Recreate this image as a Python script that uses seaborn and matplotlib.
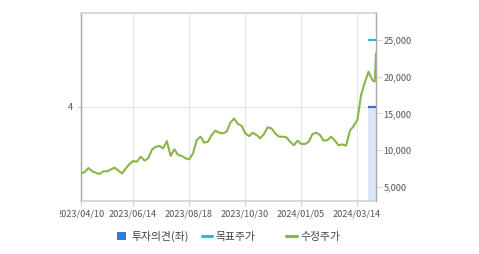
import matplotlib
matplotlib.use("Agg")
import matplotlib.pyplot as plt
import seaborn as sns
from matplotlib.patches import Patch, Rectangle
from matplotlib.lines import Line2D

# ---- data (trading-day index from 2023/04/10) ----
trade_day = list(range(0, 223, 3)) + [225, 228, 231, 234, 236, 237]
adj_price = [
    6800, 7000, 7550, 7100, 6900, 6730, 7100, 7100, 7350, 7600,
    7200, 6800, 7500, 8100, 8500, 8400, 9100, 8550, 8870, 10050,
    10450, 10550, 10230, 11200, 9200, 10100, 9320, 9180, 8860, 8730,
    9550, 11360, 11820, 11000, 11140, 12050, 12640, 12360, 12270, 12500,
    13730, 14300, 13550, 13320, 12270, 11900, 12360, 12050, 11600, 12180,
    13100, 12950, 12270, 11820, 11820, 11730, 11140, 10640, 11270, 10820,
    10820, 11140, 12180, 12360, 12050, 11270, 11360, 11820, 11270, 10640,
    10770, 10590, 12640, 13270, 14090,
    17500, 19180, 20680, 19550, 19320, 23180,
]
tick_days = [0, 41.5, 86.5, 131.5, 176.5, 221.5]
tick_labels = ["2023/04/10", "2023/06/14", "2023/08/18",
               "2023/10/30", "2024/01/05", "2024/03/14"]
opinion_start = 230.4
opinion_value = 4
target_price = 25000
price_ticks = [5000, 10000, 15000, 20000, 25000]
legend_labels = ["투자의견(좌)", "목표주가", "수정주가"]

GREEN = "#8ab549"
CYAN = "#2bb9d6"
BLUE_LINE = "#3a6ec2"
BLUE_FILL = "#dce6f6"
BLUE_SQ = "#2a7de1"
SPINE_DARK = "#a8a8a8"
SPINE_LIGHT = "#d4d4d4"
GRID = "#e6e6e6"
TXT = "#555555"

sns.set_theme(style="white")
plt.rcParams['font.family'] = ['Noto Sans CJK KR', 'DejaVu Sans']

fig = plt.figure(figsize=(4.79, 2.54), dpi=100)
ax = fig.add_axes([81 / 479, 53 / 254, 295 / 479, 188 / 254])
ax2 = ax.twinx()

end_day = trade_day[-1]

# opinion bar (left axis)
ax.bar((opinion_start + end_day) / 2, opinion_value, width=end_day - opinion_start,
       color=BLUE_FILL, linewidth=0, zorder=2)
ax.hlines(opinion_value, opinion_start, end_day, color=BLUE_LINE, lw=1.6, zorder=3)

# price line (right axis)
sns.lineplot(x=trade_day, y=adj_price, ax=ax2, color=GREEN, lw=1.5, zorder=4)
ax2.hlines(target_price, opinion_start, end_day, color=CYAN, lw=1.6, zorder=4)

ax.set_xlim(0, end_day)
ax.set_ylim(0, 8)
ax.set_yticks([opinion_value])
ax.set_yticklabels([str(opinion_value)])
ax.set_xticks(tick_days)
ax.set_xticklabels(tick_labels)
ax.grid(True, color=GRID, lw=0.8, zorder=0)
ax.set_axisbelow(True)

ax2.set_ylim(3050, 28680)
ax2.set_yticks(price_ticks)
ax2.set_yticklabels([f"{v:,}" for v in price_ticks])
ax2.grid(False)

for name, s in ax.spines.items():
    s.set_visible(name != "right")
    s.set_color(SPINE_DARK if name == "left" else SPINE_LIGHT)
    s.set_linewidth(1.0 if name == "left" else 1.3)
for name, s in ax2.spines.items():
    s.set_visible(name == "right")
    s.set_color(SPINE_DARK)
    s.set_linewidth(1.0)

ax.tick_params(axis='x', bottom=True, length=4, width=0.8, color=SPINE_LIGHT,
               labelsize=6.6, labelcolor=TXT, pad=2)
ax.tick_params(axis='y', left=True, length=3, width=0.8, color=SPINE_LIGHT,
               labelsize=6.6, labelcolor=TXT, pad=3)
ax2.tick_params(axis='y', right=True, length=4, width=0.8, color=SPINE_LIGHT,
                labelsize=6.6, labelcolor=TXT, pad=1.5)
ax2.set_xlabel("")
ax2.set_ylabel("")

# clip first label like reference
fig.patches.append(Rectangle((0, 20 / 254), 60.5 / 479, 32 / 254,
                             transform=fig.transFigure, facecolor="white",
                             edgecolor="none", zorder=10))

# legend (three separate entries)
ly = (254 - 236.5) / 254
fs = 7.8
handles = [Patch(facecolor=BLUE_SQ, edgecolor="none"),
           Line2D([], [], color=CYAN, lw=2.2),
           Line2D([], [], color=GREEN, lw=2.2)]
specs = [(117, 0.83, 0.55), (202, 0.93, 0.3), (286, 1.0, 0.3)]
for h, lab, (x0, hl, tp) in zip(handles, legend_labels, specs):
    leg = fig.legend([h], [lab], loc="center left", bbox_to_anchor=(x0 / 479, ly),
                     frameon=False, borderpad=0, borderaxespad=0,
                     handlelength=hl, handleheight=0.83, handletextpad=tp,
                     fontsize=fs)
    for t in leg.get_texts():
        t.set_color("#444444")

fig.savefig("out.png", dpi=100)
